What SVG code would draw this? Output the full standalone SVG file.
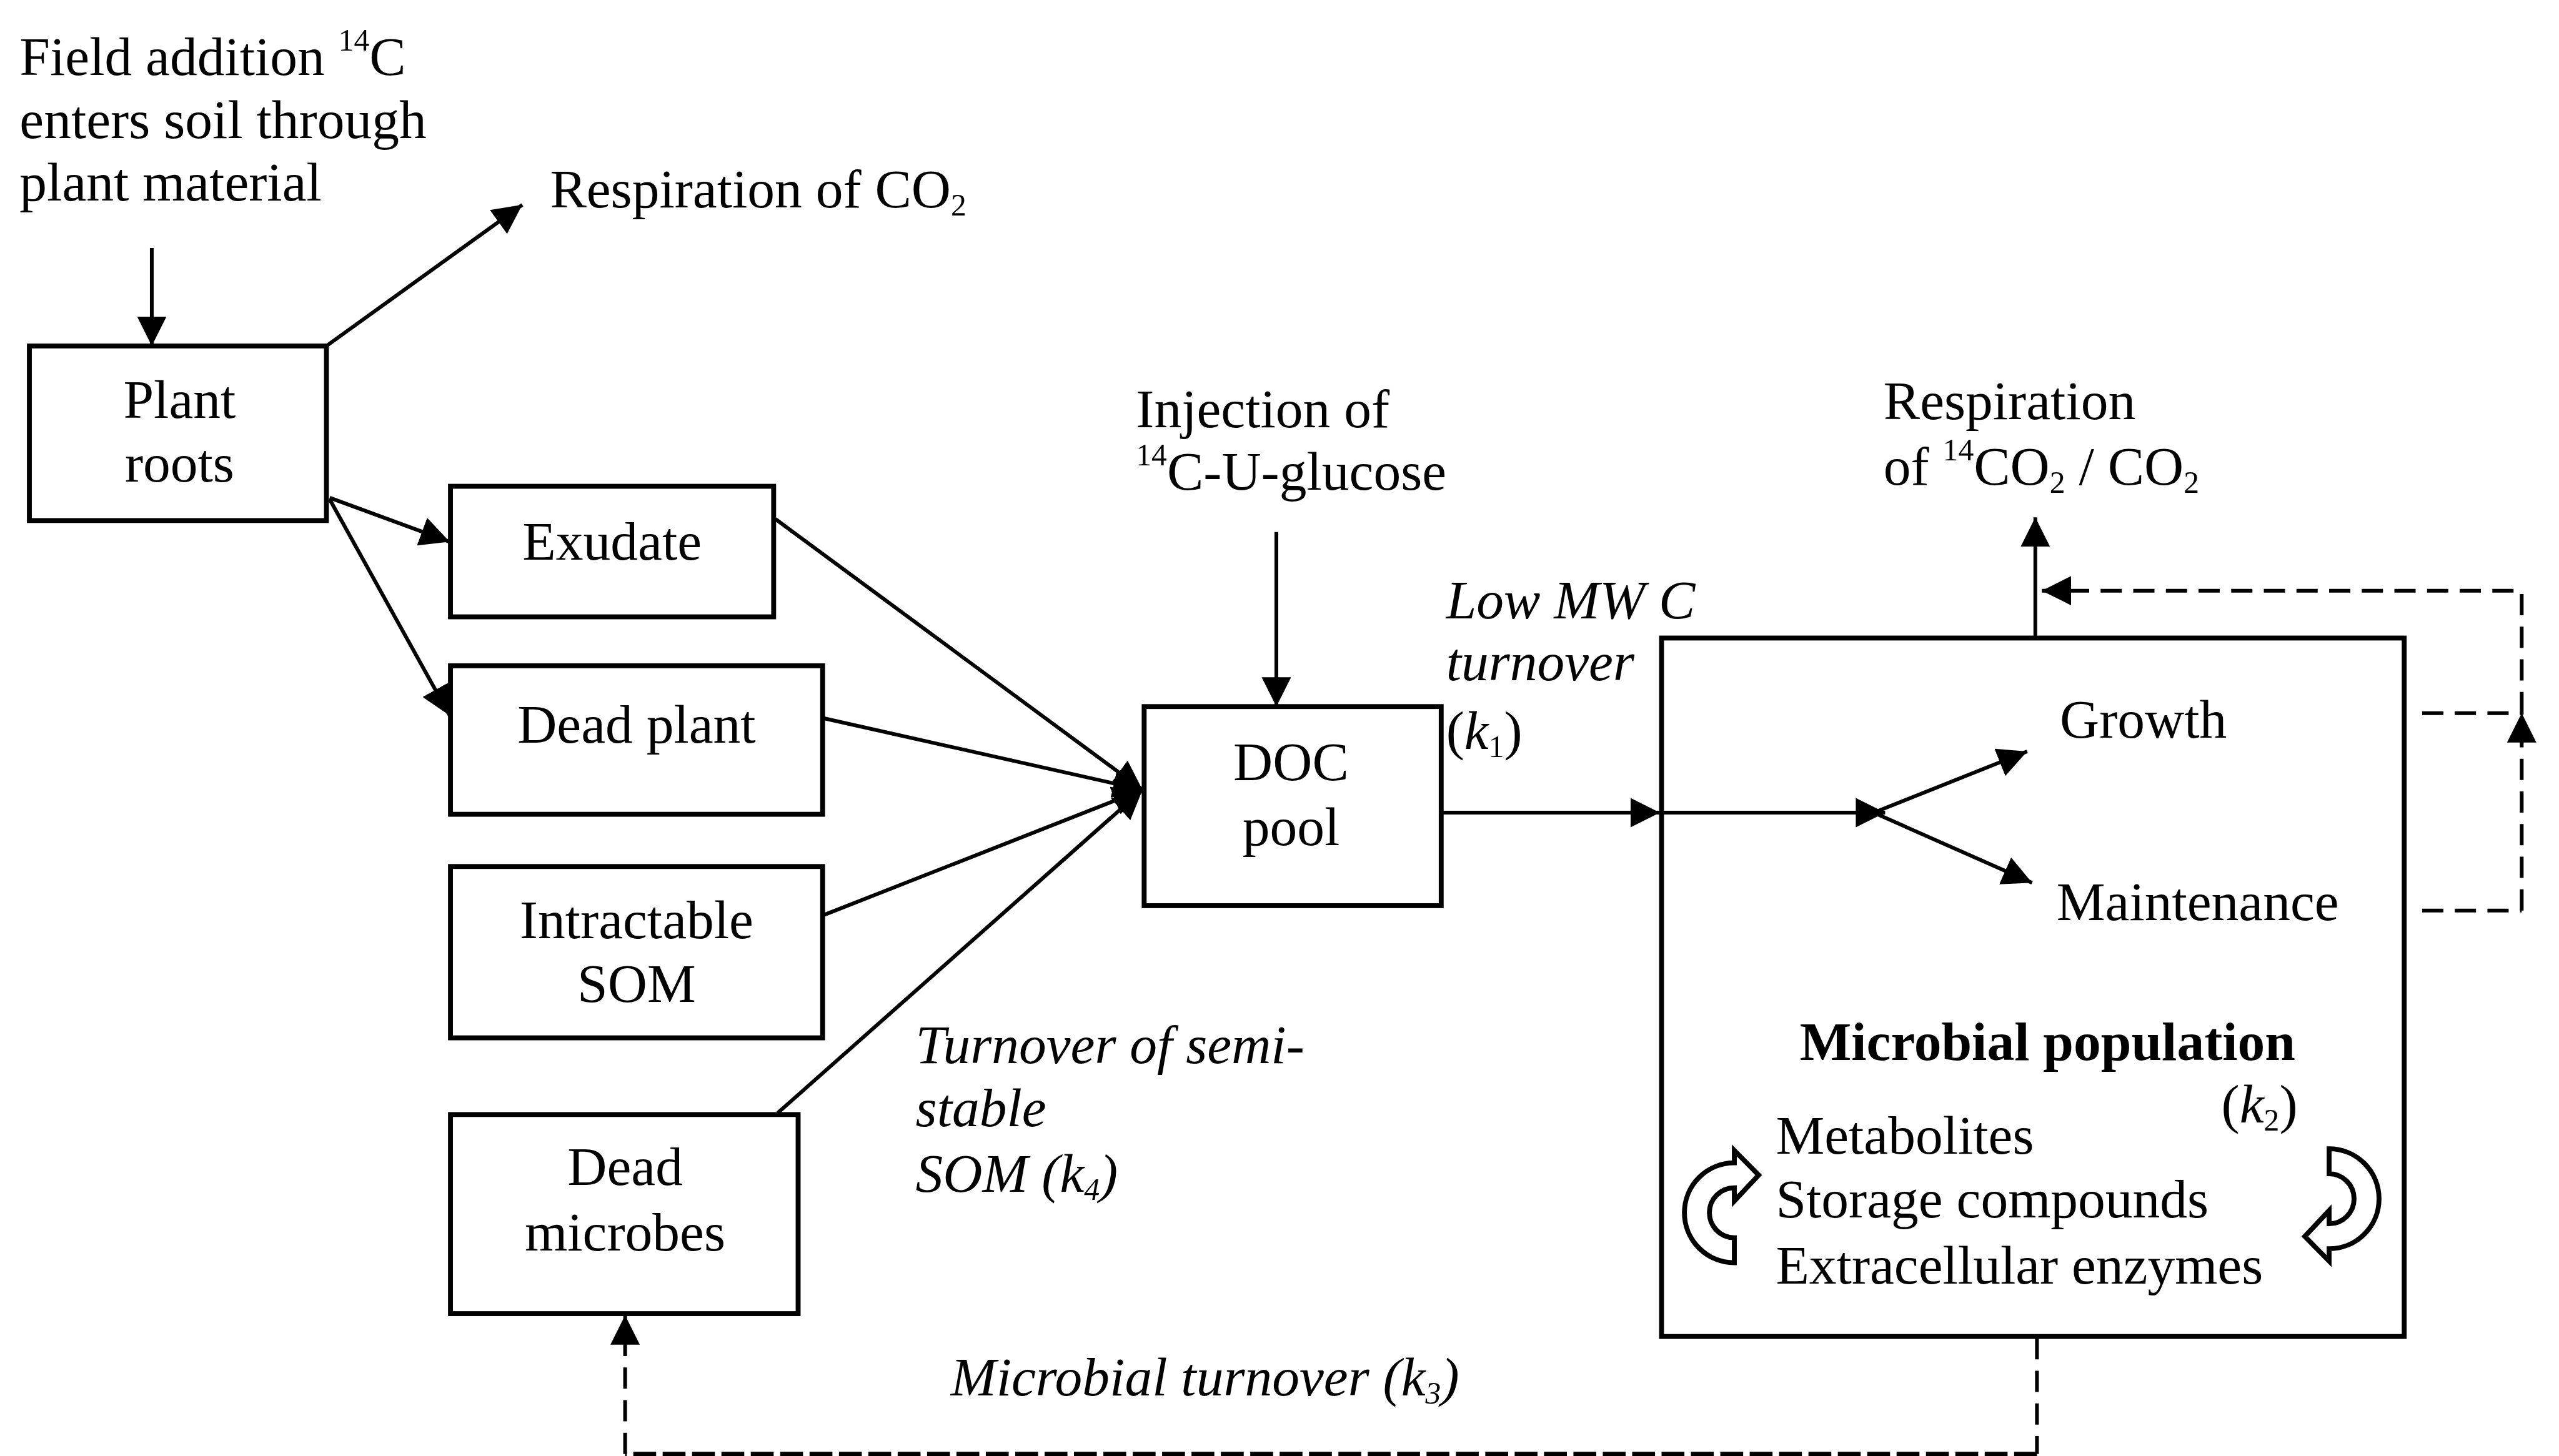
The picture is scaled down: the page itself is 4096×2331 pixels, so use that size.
<svg xmlns="http://www.w3.org/2000/svg" width="4096" height="2331" viewBox="0 0 4096 2331">
<style>
text{font-family:"Liberation Serif","Times New Roman",serif;font-size:33.5px;fill:#000}
.it{font-style:italic}
.b{font-weight:bold}
.m{text-anchor:middle}
.box{fill:#fff;stroke:#000;stroke-width:3}
.ln{fill:none;stroke:#000;stroke-width:2.3}
.ds{fill:none;stroke:#000;stroke-width:2.3;stroke-dasharray:13 7}
.dd{fill:none;stroke:#000;stroke-width:2.6;stroke-dasharray:14 4}
.cyc{fill:#fff;stroke:#000;stroke-width:3;stroke-linejoin:miter}
</style>
<defs>
<marker id="ah" viewBox="0 0 18 18" refX="18" refY="9" markerWidth="18" markerHeight="18" markerUnits="userSpaceOnUse" orient="auto">
<path d="M0,0 L18,9 L0,18 Z" fill="#000"/>
</marker>
<path id="cycle" d="M0,30.6 A30.6,30.6 0 0 1 0,-30.6 L0,-38.2 L14.9,-23.1 L0,-7.2 L0,-15.3 A15.3,15.3 0 0 0 0,15.3 Z"/>
</defs>
<rect width="4096" height="2331" fill="#fff"/>
<g transform="scale(2.6125)">
<g id="connectors">
<line class="ln" x1="93" y1="152" x2="93" y2="212" marker-end="url(#ah)"/>
<line class="ln" x1="200" y1="212" x2="320" y2="125.5" marker-end="url(#ah)"/>
<line class="ln" x1="202" y1="305" x2="275.5" y2="332" marker-end="url(#ah)"/>
<line class="ln" x1="202" y1="306" x2="275.5" y2="438.5" marker-end="url(#ah)"/>
<line class="ln" x1="475" y1="318" x2="700" y2="484" marker-end="url(#ah)"/>
<line class="ln" x1="504" y1="440" x2="700" y2="484" marker-end="url(#ah)"/>
<line class="ln" x1="504" y1="561" x2="700" y2="484" marker-end="url(#ah)"/>
<line class="ln" x1="476.5" y1="682" x2="700" y2="484" marker-end="url(#ah)"/>
<line class="ln" x1="782" y1="326" x2="782" y2="433" marker-end="url(#ah)"/>
<line class="ln" x1="883" y1="498" x2="1017" y2="498" marker-end="url(#ah)"/>
<line class="ln" x1="1018" y1="498" x2="1155" y2="498" marker-end="url(#ah)"/>
<line class="ln" x1="1148" y1="498" x2="1242" y2="460.5" marker-end="url(#ah)"/>
<line class="ln" x1="1148" y1="498" x2="1245" y2="541" marker-end="url(#ah)"/>
<line class="ln" x1="1247" y1="391" x2="1247" y2="317" marker-end="url(#ah)"/>
<path class="ds" d="M1484,558 H1545"/>
<path class="ds" d="M1484,437 H1545"/>
<path class="ds" d="M1545,558 V437" marker-end="url(#ah)"/>
<path class="ds" d="M1545,437 V362 H1251" marker-end="url(#ah)"/>
<path class="ds" d="M1248,820 V891"/>
<path class="dd" d="M1248,891 H383"/>
<path class="ds" d="M383,891 V806" marker-end="url(#ah)"/>
</g>
<g id="plant-roots">
<rect class="box" x="18" y="212" width="182" height="107"/>
<text class="m" x="110" y="256">Plant</text>
<text class="m" x="110" y="295">roots</text>
</g>
<g id="exudate">
<rect class="box" x="276" y="298" width="198" height="80"/>
<text class="m" x="375" y="343">Exudate</text>
</g>
<g id="dead-plant">
<rect class="box" x="276" y="408" width="228" height="91"/>
<text class="m" x="390" y="455">Dead plant</text>
</g>
<g id="intractable-som">
<rect class="box" x="276" y="531" width="228" height="105"/>
<text class="m" x="390" y="575">Intractable</text>
<text class="m" x="390" y="614">SOM</text>
</g>
<g id="dead-microbes">
<rect class="box" x="276" y="683" width="213" height="122"/>
<text class="m" x="383" y="726">Dead</text>
<text class="m" x="383" y="766.5">microbes</text>
</g>
<g id="doc-pool">
<rect class="box" x="701" y="433" width="182" height="122"/>
<text class="m" x="791" y="478">DOC</text>
<text class="m" x="791" y="518">pool</text>
</g>
<g id="microbial-population">
<rect class="box" x="1018" y="391" width="455" height="428" fill="none" style="fill:none"/>
<text x="1262" y="452">Growth</text>
<text x="1260" y="564">Maintenance</text>
<text class="b m" x="1254.5" y="649.5">Microbial population</text>
<text x="1361" y="688">(<tspan class="it">k</tspan><tspan font-size="19" dy="5">2</tspan><tspan dy="-5">)</tspan></text>
<text x="1088" y="707">Metabolites</text>
<text x="1088" y="746">Storage compounds</text>
<text x="1088" y="786.5">Extracellular enzymes</text>
<use href="#cycle" class="cyc" transform="translate(1062.6,743.2)"/>
<use href="#cycle" class="cyc" transform="translate(1427,734.6) rotate(180)"/>
</g>
<g id="labels">
<text x="12" y="46">Field addition <tspan font-size="19" dy="-15">14</tspan><tspan dy="15">C</tspan></text>
<text x="12" y="84.5">enters soil through</text>
<text x="12" y="123">plant material</text>
<text x="337" y="127">Respiration of CO<tspan font-size="19" dy="5">2</tspan></text>
<text x="696" y="262">Injection of</text>
<text x="696" y="300"><tspan font-size="19" dy="-15">14</tspan><tspan dy="15">C-U-glucose</tspan></text>
<text class="it" x="886" y="379">Low MW C</text>
<text class="it" x="886" y="417">turnover</text>
<text x="886" y="459">(<tspan class="it">k</tspan><tspan font-size="19" dy="5">1</tspan><tspan dy="-5">)</tspan></text>
<text x="1154" y="257">Respiration</text>
<text x="1154" y="297">of <tspan font-size="19" dy="-15">14</tspan><tspan dy="15">CO</tspan><tspan font-size="19" dy="5">2</tspan><tspan dy="-5"> / CO</tspan><tspan font-size="19" dy="5">2</tspan></text>
<text class="it" x="561" y="651.5">Turnover of semi-</text>
<text class="it" x="561" y="690">stable</text>
<text class="it" x="561" y="730.5">SOM (k<tspan font-size="19" dy="5">4</tspan><tspan dy="-5">)</tspan></text>
<text class="it" x="582.5" y="855">Microbial turnover (k<tspan font-size="19" dy="5">3</tspan><tspan dy="-5">)</tspan></text>
</g>
</g>
</svg>
